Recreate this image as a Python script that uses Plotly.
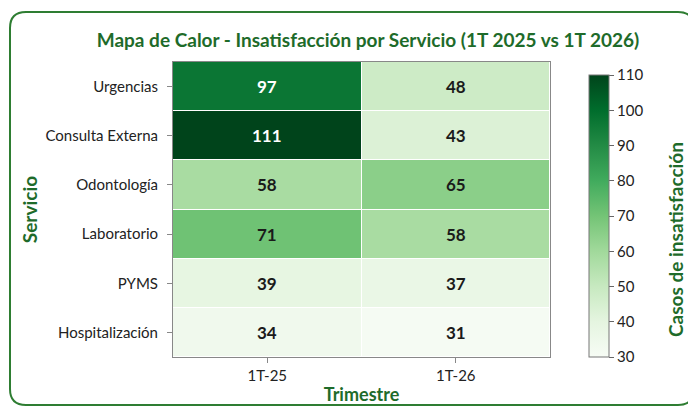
import plotly.graph_objects as go

servicios = ["Urgencias", "Consulta Externa", "Odontología", "Laboratorio", "PYMS", "Hospitalización"]
trimestres = ["1T-25", "1T-26"]
vals_1t25 = [97, 111, 58, 71, 39, 34]
vals_1t26 = [48, 43, 65, 58, 37, 31]
cb_ticks = [30, 40, 50, 60, 70, 80, 90, 100, 110]

z = [[a, b] for a, b in zip(vals_1t25, vals_1t26)]

FONT = "Lato, Noto Sans, sans-serif"
GREEN = "#1e6b2a"
OFF = 8  # page body offset of the browser

# target pixel positions in the screenshot, converted to figure coordinates
L, R, T, B = 173 - OFF, 550 - OFF, 62 - OFF, 357 - OFF
pw, ph = R - L, B - T
def px(x): return (x - OFF - L) / pw
def py(y): return (B - (y - OFF)) / ph

fig = go.Figure(go.Heatmap(
    z=z, x=trimestres, y=servicios,
    colorscale="Greens", zmin=30, zmax=110,
    xgap=1, ygap=1,
    colorbar=dict(
        tickvals=cb_ticks, ticks="outside", ticklen=5, tickcolor="#666",
        tickfont=dict(size=15, color="#222", family=FONT),
        thickness=20, len=py(75) - py(357), lenmode="fraction",
        x=px(589), xanchor="left", y=py(357), yanchor="bottom",
        xpad=0, ypad=0,
        outlinecolor="#777", outlinewidth=1,
    ),
    hoverinfo="skip",
))

annotations = []
for i, s in enumerate(servicios):
    for j, t in enumerate(trimestres):
        v = z[i][j]
        annotations.append(dict(
            x=t, y=s, text=f"<b>{v}</b>", showarrow=False,
            font=dict(size=17, family=FONT, color="white" if v > 80 else "#1a1a1a"),
        ))

# colorbar title as rotated text
annotations.append(dict(
    text="<b>Casos de insatisfacción</b>", xref="paper", yref="paper",
    x=px(675), y=py(240), xanchor="center", yanchor="middle",
    textangle=-90, showarrow=False,
    font=dict(size=19, color=GREEN, family=FONT),
))

# rounded frame around the figure (paper coords)
x0, x1, y1, y0 = px(10), px(694), py(12), py(405)
rx, ry = 16 / pw, 16 / ph
path = (f"M {x0+rx},{y1} L {x1-rx},{y1} Q {x1},{y1} {x1},{y1-ry} "
        f"L {x1},{y0+ry} Q {x1},{y0} {x1-rx},{y0} L {x0+rx},{y0} "
        f"Q {x0},{y0} {x0},{y0+ry} L {x0},{y1-ry} Q {x0},{y1} {x0+rx},{y1} Z")

fig.update_layout(
    width=696, height=406,
    margin=dict(l=L, r=696 - R, t=T, b=406 - B, autoexpand=False),
    paper_bgcolor="white", plot_bgcolor="white",
    font=dict(family=FONT),
    title=dict(text="Mapa de Calor - Insatisfacción por Servicio (1T 2025 vs 1T 2026)",
               x=(368 - OFF) / 696, xanchor="center", y=1 - (40 - OFF) / 406, yanchor="middle",
               font=dict(size=19, color=GREEN, family=FONT, weight="bold")),
    xaxis=dict(title=dict(text="Trimestre", standoff=5,
                          font=dict(size=18, color=GREEN, family=FONT, weight="bold")),
               automargin=False,
               ticks="outside", ticklen=5, tickcolor="#888",
               tickfont=dict(size=15, color="#222", family=FONT),
               showline=True, linecolor="#888", mirror=True, showgrid=False),
    yaxis=dict(title=dict(text="Servicio", standoff=2,
                          font=dict(size=19, color=GREEN, family=FONT, weight="bold")),
               automargin=False,
               autorange="reversed",
               ticks="outside", ticklen=5, tickcolor="#888", ticklabelstandoff=6,
               tickfont=dict(size=15, color="#222", family=FONT),
               showline=True, linecolor="#888", mirror=True, showgrid=False),
    annotations=annotations,
    shapes=[dict(type="path", path=path, xref="paper", yref="paper",
                 line=dict(color="#2e7d32", width=2), fillcolor="rgba(0,0,0,0)",
                 layer="below")],
)

fig.write_html("out.html")
